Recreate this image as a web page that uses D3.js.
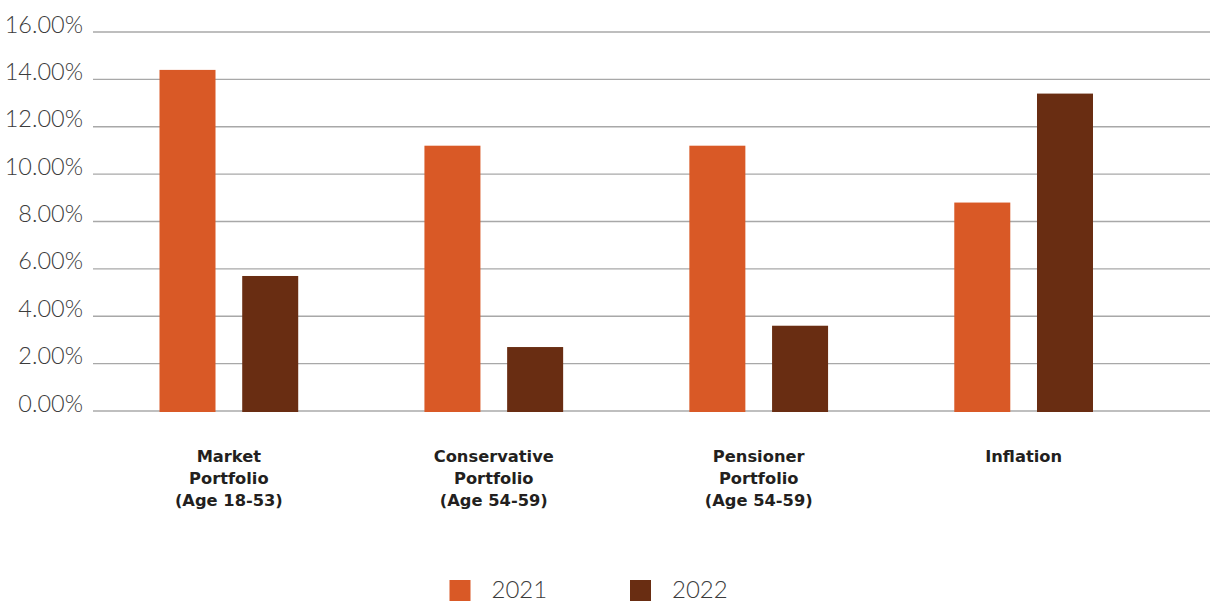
<!DOCTYPE html>
<html>
<head>
<meta charset="utf-8">
<script src="https://cdn.jsdelivr.net/npm/d3@7"></script>
<style>
  html, body { margin: 0; padding: 0; background: #fff; }
  svg { display: block; }
</style>
</head>
<body>
<svg id="chart" width="1210" height="603"></svg>
<script>
// ---- data ----
const categories = [
  ["Market", "Portfolio", "(Age 18-53)"],
  ["Conservative", "Portfolio", "(Age 54-59)"],
  ["Pensioner", "Portfolio", "(Age 54-59)"],
  ["Inflation"]
];
const categoryKeys = ["market", "conservative", "pensioner", "inflation"];
const seriesNames = ["2021", "2022"];
const values2021 = [14.4, 11.2, 11.2, 8.8];
const values2022 = [5.7, 2.7, 3.6, 13.4];
const yTicks = [0, 2, 4, 6, 8, 10, 12, 14, 16];
const colors = ["#D95926", "#692D12"];

// ---- layout ----
const W = 1210, H = 603;
const svg = d3.select("#chart");

const y = d3.scaleLinear().domain([0, 16]).range([411, 32]);

const x0 = d3.scaleBand()
  .domain(categoryKeys)
  .range([159.5, 1093])
  .paddingInner(0.4764)
  .paddingOuter(0);

const x1 = d3.scaleBand()
  .domain(seriesNames)
  .range([0, x0.bandwidth()])
  .paddingInner(0.3229)
  .paddingOuter(0);

const seriesValues = [values2021, values2022];

// gridlines
const grid = svg.append("g");
grid.selectAll("line")
  .data(yTicks)
  .enter().append("line")
  .attr("x1", 93)
  .attr("x2", W)
  .attr("y1", d => y(d))
  .attr("y2", d => y(d))
  .attr("stroke", d => d === 0 ? "#bfbfbf" : "#a8a8a8")
  .attr("stroke-width", d => d === 0 ? 2 : 1.3);

// y labels
const yAxis = d3.axisLeft(y)
  .tickValues(yTicks)
  .tickSize(0)
  .tickPadding(0)
  .tickFormat(d => d.toFixed(2) + "%");
const yg = svg.append("g").attr("transform", "translate(83,0)").call(yAxis);
yg.select(".domain").remove();
yg.selectAll("text")
  .attr("dy", "0")
  .attr("y", 0)
  .attr("font-family", "Lato, 'Open Sans', sans-serif")
  .attr("font-weight", 300)
  .attr("font-size", "23.5px")
  .attr("fill", "#3c3c3c");

// bars
const groups = svg.append("g").selectAll("g")
  .data(categoryKeys)
  .enter().append("g")
  .attr("transform", d => `translate(${x0(d)},0)`);

groups.selectAll("rect")
  .data((d, i) => seriesNames.map((s, j) => ({ s, v: seriesValues[j][i], j })))
  .enter().append("rect")
  .attr("x", d => x1(d.s))
  .attr("width", x1.bandwidth())
  .attr("y", d => y(d.v))
  .attr("height", d => y(0) - y(d.v) + 1)
  .attr("fill", d => colors[d.j]);

// category labels
const labels = svg.append("g").selectAll("text")
  .data(categoryKeys)
  .enter().append("text")
  .attr("x", d => x0(d) + x0.bandwidth() / 2)
  .attr("y", 461.5)
  .attr("text-anchor", "middle")
  .attr("font-family", "'DejaVu Sans', sans-serif")
  .attr("font-weight", "bold")
  .attr("font-size", "16.3px")
  .attr("fill", "#231f20");
labels.each(function (d, i) {
  const t = d3.select(this);
  categories[i].forEach((line, k) => {
    t.append("tspan")
      .attr("x", x0(d) + x0.bandwidth() / 2)
      .attr("dy", k === 0 ? 0 : 22)
      .text(line);
  });
});

// legend
const legendX = [449.5, 630];
const legend = svg.append("g").selectAll("g")
  .data(seriesNames)
  .enter().append("g")
  .attr("transform", (d, i) => `translate(${legendX[i]},580)`);
legend.append("rect")
  .attr("width", 21)
  .attr("height", 21)
  .attr("fill", (d, i) => colors[i]);
legend.append("text")
  .attr("x", 42)
  .attr("y", 18)
  .attr("font-family", "Lato, 'Open Sans', sans-serif")
  .attr("font-weight", 300)
  .attr("font-size", "24px")
  .attr("fill", "#3c3c3c")
  .text(d => d);
</script>
</body>
</html>
